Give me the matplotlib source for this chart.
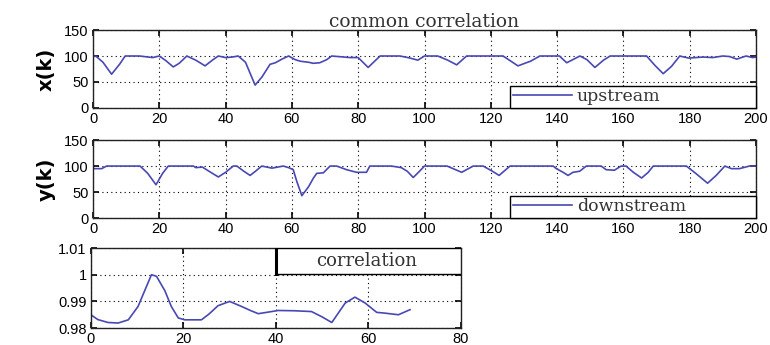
import matplotlib
matplotlib.use("Agg")
import matplotlib.pyplot as plt
from matplotlib.patches import Rectangle
from matplotlib.ticker import FormatStrFormatter

# upstream x(k): sample index and value at curve breakpoints
up_k = [0, 1, 3, 5.6, 8, 9.7, 14, 18, 20, 22, 24.2, 26, 28.3, 31, 33.8, 36, 37.8, 40, 42, 43.8,
        46, 48.9, 51, 53.4, 55, 57, 59, 61, 62.5, 65, 66.4, 68.4, 70.5, 72, 77.5, 80, 83, 86.6,
        92.6, 95, 98, 100, 104, 107, 109.7, 112.7, 118, 123.7, 128.2, 130.7, 132, 134.8, 138,
        140.7, 142.9, 146.9, 149, 151.4, 154, 156, 162, 167, 169.5, 172, 174.5, 177, 179.7,
        184, 187, 190, 192, 194.2, 197, 199, 200]
up_v = [100, 99, 88, 65, 84, 100, 100, 97, 100, 91, 79, 86, 100, 92, 81, 92, 100, 97, 98, 100,
        88, 44, 60, 84, 87, 94, 100, 93, 90, 88, 86, 87, 93, 100, 97, 97, 78, 100,
        100, 97, 92, 100, 100, 92, 83, 100, 100, 100, 81, 87, 90, 100, 100,
        100, 87, 100, 93, 78, 92, 100, 100, 100, 82, 66, 80, 100, 96,
        98, 97, 100, 99, 94, 100, 97, 98]

# downstream y(k)
down_k = [0, 2.6, 4.1, 10, 14.2, 16.5, 19, 21, 22.7, 30.3, 31, 33, 35.5, 37.8, 40, 42.3, 43.4,
          45.5, 47.4, 49, 50.9, 54, 57.4, 59, 60.4, 61.5, 63, 65, 66.5, 67.5, 69.5, 71.5, 73.5,
          76.5, 79.5, 82.5, 83.5, 90, 93, 94.8, 96.6, 98.5, 100, 106.8, 109, 111.2, 114.7, 117.7,
          120.5, 122.5, 125.8, 138.8, 139.8, 141.8, 143.3, 144.8, 146.8, 148.8, 153.3, 154.8,
          157.3, 159.3, 160.8, 163, 165.5, 167.5, 169, 179, 182, 185.4, 188, 190.6, 192.6, 195,
          198, 200]
down_v = [95, 95, 100, 100, 100, 86, 64, 86, 100, 100, 97, 98, 88, 79, 88, 100, 100,
          90, 82, 90, 100, 96, 100, 97, 93, 70, 43, 60, 77, 86, 87, 100, 100,
          93, 88, 88, 100, 100, 97, 90, 78, 90, 100, 100, 94, 88, 100, 100,
          90, 82, 100, 100, 95, 88, 82, 88, 90, 100, 100, 93,
          92, 100, 100, 88, 77, 88, 100, 100, 85, 67, 82, 100, 95, 95,
          100, 100]

# correlation coefficient
corr_k = [0, 1.5, 3.7, 5.9, 8.1, 10.2, 12, 13.1, 14.2, 16, 17.4, 18.9, 20.3, 23.9, 25.5, 27.5,
          30, 32.6, 34.5, 36.2, 39.1, 40.5, 44, 47.7, 50, 52.1, 55, 57.1, 59.3, 61.8, 63.6, 66.5, 69]
corr_v = [0.985, 0.9832, 0.9821, 0.9819, 0.9831, 0.9881, 0.9955, 1.0, 0.9994, 0.994, 0.9881,
          0.9838, 0.9831, 0.9831, 0.9852, 0.9884, 0.99, 0.9881, 0.9866, 0.9854, 0.9862, 0.9866,
          0.9865, 0.9862, 0.9842, 0.9821, 0.9894, 0.9916, 0.9894, 0.9859, 0.9856, 0.985, 0.9869]

line_color = "#4848b4"
tick_font = {"family": "Liberation Sans", "size": 10.5}
serif = "DejaVu Serif"

fig = plt.figure(figsize=(7.7, 3.45), dpi=100)
ax1 = fig.add_axes([0.1208, 0.687, 0.861, 0.226])
ax2 = fig.add_axes([0.1208, 0.368, 0.861, 0.226])
ax3 = fig.add_axes([0.118, 0.049, 0.4805, 0.232])


def style(ax):
    ax.grid(True, linestyle=(0, (1, 3)), color="black", linewidth=0.8)
    ax.tick_params(direction="in", top=True, right=True, length=4, width=1.2, pad=3)
    for lab in ax.get_xticklabels() + ax.get_yticklabels():
        lab.set_fontfamily(tick_font["family"])
        lab.set_fontsize(tick_font["size"])
    for s in ax.spines.values():
        s.set_color("#222222")
        s.set_linewidth(1.0)


def add_legend(ax):
    leg = ax.legend(loc="lower left", bbox_to_anchor=(0.629, 0.0, 0.371, 0.27), mode="expand",
                    borderaxespad=0, fancybox=False, edgecolor="black", framealpha=1,
                    prop={"family": serif, "size": 12.5}, handlelength=3.4, handletextpad=0.3,
                    borderpad=0.15, labelcolor="#333333")
    leg.get_frame().set_linewidth(1.0)


ax1.plot(up_k, up_v, color=line_color, lw=1.2, label="upstream")
ax1.set_xlim(0, 200)
ax1.set_ylim(0, 150)
ax1.set_xticks(range(0, 201, 20))
ax1.set_yticks([0, 50, 100, 150])
ax1.set_ylabel("x(k)", fontsize=14, fontweight="bold", labelpad=6)
ax1.set_title("common correlation", fontfamily=serif, fontsize=13.5, pad=2, color="#333333")
style(ax1)
add_legend(ax1)

ax2.plot(down_k, down_v, color=line_color, lw=1.2, label="downstream")
ax2.set_xlim(0, 200)
ax2.set_ylim(0, 150)
ax2.set_xticks(range(0, 201, 20))
ax2.set_yticks([0, 50, 100, 150])
ax2.set_ylabel("y(k)", fontsize=14, fontweight="bold", labelpad=6)
style(ax2)
add_legend(ax2)

ax3.plot(corr_k, corr_v, color=line_color, lw=1.2)
ax3.set_xlim(0, 80)
ax3.set_ylim(0.98, 1.01)
ax3.set_xticks(range(0, 81, 20))
ax3.set_yticks([0.98, 0.99, 1.0, 1.01])
ax3.yaxis.set_major_formatter(FormatStrFormatter("%g"))
style(ax3)
ax3.add_patch(Rectangle((0.5, 0.675), 0.5, 0.325, transform=ax3.transAxes,
                        facecolor="white", edgecolor="black", lw=1.0, zorder=5))
ax3.plot([0.5, 0.5], [0.675, 1.0], transform=ax3.transAxes, color="black", lw=2.2, zorder=6)
ax3.text(0.745, 0.84, "correlation", transform=ax3.transAxes, ha="center", va="center",
         fontfamily=serif, fontsize=13, color="#333333", zorder=7)

fig.savefig("out.png", dpi=100)
